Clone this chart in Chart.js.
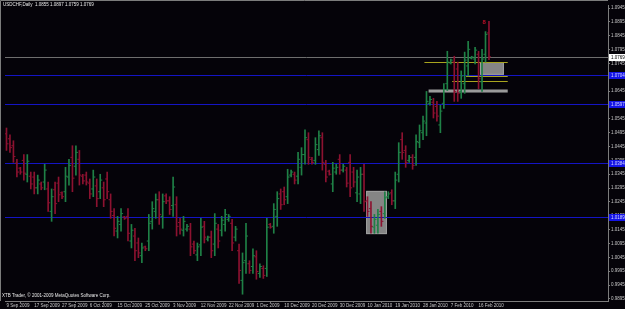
<!DOCTYPE html>
<html><head><meta charset="utf-8">
<script src="https://cdn.jsdelivr.net/npm/chart.js@4.4.1/dist/chart.umd.min.js"></script>
<style>html,body{margin:0;padding:0;background:#050309;overflow:hidden}#wrap{width:625px;height:309px;position:relative}</style>
</head><body><div id="wrap"><canvas id="c"></canvas></div>
<script>
// ---- data ----
const symbolTitle = 'USDCHF,Daily  1.0855 1.0897 1.0759 1.0769';
const copyrightText = 'XTB Trader, \u00A9 2001-2009 MetaQuotes Software Corp.';
const dateLabels = ['9 Sep 2009','17 Sep 2009','27 Sep 2009','6 Oct 2009','15 Oct 2009','25 Oct 2009','3 Nov 2009','12 Nov 2009','22 Nov 2009','1 Dec 2009','10 Dec 2009','20 Dec 2009','30 Dec 2009','10 Jan 2010','19 Jan 2010','28 Jan 2010','7 Feb 2010','16 Feb 2010'];
const dateLabelBars = [0,8,16,24,32,40,48,56,64,72,80,88,96,104,112,120,128,136];
const priceTicks = [1.0945,1.0895,1.0845,1.0795,1.0745,1.0695,1.0645,1.0595,1.0545,1.0495,1.0445,1.0395,1.0345,1.0295,1.0245,1.0195,1.0145,1.0095,1.0045,0.9995,0.9945,0.9895];
const opens = [1.0491,1.0473,1.0448,1.0385,1.0367,1.0395,1.0345,1.0338,1.0335,1.0296,
1.0310,1.0317,1.0292,1.0211,1.0289,1.0313,1.0278,1.0282,1.0335,1.0406,
1.0374,1.0399,1.0338,1.0342,1.0313,1.0292,1.0303,1.0282,1.0296,1.0328,
1.0253,1.0196,1.0140,1.0164,1.0191,1.0193,1.0104,1.0122,1.0097,1.0051,
1.0083,1.0104,1.0175,1.0211,1.0253,1.0193,1.0267,1.0249,1.0232,1.0235,
1.0171,1.0143,1.0147,1.0147,1.0093,1.0054,1.0090,1.0157,1.0111,1.0118,
1.0093,1.0147,1.0143,1.0164,1.0182,1.0168,1.0118,1.0069,0.9962,1.0033,
1.0022,1.0012,1.0047,0.9987,1.0005,1.0005,1.0164,1.0157,1.0193,1.0274,
1.0282,1.0264,1.0342,1.0345,1.0338,1.0370,1.0416,1.0470,1.0399,1.0395,
1.0434,1.0477,1.0381,1.0356,1.0310,1.0353,1.0399,1.0360,1.0360,1.0388,
1.0353,1.0278,1.0274,1.0345,1.0249,1.0221,1.0154,1.0161,1.0211,1.0203,
1.0264,1.0278,1.0249,1.0345,1.0470,1.0431,1.0395,1.0406,1.0406,1.0459,
1.0495,1.0530,1.0601,1.0605,1.0590,1.0523,1.0601,1.0672,1.0747,1.0750,
1.0725,1.0644,1.0672,1.0736,1.0764,1.0761,1.0778,1.0679,1.0778,1.0855];
const highs = [1.0512,1.0487,1.0466,1.0399,1.0370,1.0416,1.0416,1.0353,1.0353,1.0342,
1.0317,1.0381,1.0317,1.0292,1.0317,1.0335,1.0282,1.0370,1.0399,1.0448,
1.0448,1.0431,1.0345,1.0353,1.0328,1.0360,1.0328,1.0345,1.0317,1.0353,
1.0274,1.0221,1.0193,1.0221,1.0193,1.0221,1.0164,1.0150,1.0115,1.0097,
1.0086,1.0200,1.0246,1.0274,1.0282,1.0274,1.0274,1.0264,1.0335,1.0264,
1.0186,1.0193,1.0164,1.0168,1.0104,1.0097,1.0186,1.0175,1.0122,1.0140,
1.0203,1.0164,1.0193,1.0218,1.0200,1.0182,1.0157,1.0093,1.0061,1.0168,
1.0033,1.0076,1.0069,1.0022,1.0015,1.0186,1.0168,1.0239,1.0282,1.0292,
1.0299,1.0363,1.0360,1.0353,1.0424,1.0441,1.0505,1.0495,1.0406,1.0477,
1.0502,1.0495,1.0395,1.0360,1.0388,1.0381,1.0416,1.0381,1.0370,1.0416,
1.0370,1.0360,1.0370,1.0381,1.0264,1.0246,1.0200,1.0218,1.0228,1.0282,
1.0282,1.0289,1.0353,1.0459,1.0495,1.0448,1.0413,1.0416,1.0487,1.0523,
1.0555,1.0644,1.0626,1.0619,1.0608,1.0594,1.0672,1.0789,1.0761,1.0771,
1.0750,1.0718,1.0786,1.0825,1.0771,1.0803,1.0789,1.0796,1.0860,1.0897];
const lows = [1.0431,1.0424,1.0388,1.0335,1.0345,1.0324,1.0317,1.0292,1.0274,1.0274,
1.0289,1.0289,1.0211,1.0175,1.0203,1.0246,1.0257,1.0246,1.0306,1.0282,
1.0342,1.0306,1.0310,1.0306,1.0257,1.0264,1.0228,1.0257,1.0228,1.0257,
1.0186,1.0122,1.0115,1.0140,1.0182,1.0104,1.0079,1.0033,1.0044,1.0026,
1.0069,1.0069,1.0147,1.0186,1.0164,1.0150,1.0239,1.0200,1.0193,1.0122,
1.0129,1.0122,1.0140,1.0051,1.0058,1.0033,1.0051,1.0097,1.0104,1.0044,
1.0051,1.0079,1.0122,1.0140,1.0175,1.0069,1.0104,0.9951,0.9912,0.9987,
0.9987,0.9987,0.9966,0.9973,0.9969,0.9976,1.0150,1.0132,1.0157,1.0218,
1.0235,1.0239,1.0335,1.0310,1.0310,1.0342,1.0381,1.0381,1.0381,1.0381,
1.0413,1.0360,1.0317,1.0342,1.0282,1.0345,1.0345,1.0353,1.0299,1.0264,
1.0299,1.0246,1.0239,1.0211,1.0193,1.0132,1.0132,1.0132,1.0157,1.0186,
1.0257,1.0235,1.0221,1.0317,1.0399,1.0370,1.0388,1.0363,1.0377,1.0441,
1.0470,1.0484,1.0594,1.0548,1.0537,1.0495,1.0583,1.0647,1.0743,1.0608,
1.0608,1.0619,1.0637,1.0700,1.0761,1.0743,1.0654,1.0644,1.0750,1.0759];
const closes = [1.0455,1.0441,1.0409,1.0353,1.0353,1.0349,1.0392,1.0310,1.0296,1.0324,
1.0296,1.0360,1.0242,1.0264,1.0239,1.0271,1.0264,1.0338,1.0377,1.0331,
1.0424,1.0342,1.0321,1.0317,1.0274,1.0335,1.0257,1.0324,1.0253,1.0282,
1.0211,1.0150,1.0175,1.0203,1.0186,1.0132,1.0143,1.0069,1.0061,1.0079,
1.0076,1.0168,1.0221,1.0253,1.0200,1.0246,1.0249,1.0218,1.0299,1.0157,
1.0147,1.0175,1.0157,1.0083,1.0069,1.0083,1.0154,1.0118,1.0118,1.0069,
1.0168,1.0104,1.0179,1.0200,1.0193,1.0097,1.0147,0.9998,1.0026,1.0122,
0.9998,1.0051,0.9994,1.0012,0.9980,1.0154,1.0154,1.0218,1.0257,1.0235,
1.0253,1.0335,1.0353,1.0324,1.0399,1.0416,1.0477,1.0406,1.0388,1.0452,
1.0484,1.0388,1.0335,1.0345,1.0367,1.0370,1.0360,1.0374,1.0313,1.0296,
1.0317,1.0335,1.0345,1.0246,1.0211,1.0157,1.0182,1.0200,1.0175,1.0260,
1.0274,1.0249,1.0324,1.0424,1.0424,1.0388,1.0406,1.0377,1.0463,1.0502,
1.0537,1.0608,1.0615,1.0566,1.0555,1.0573,1.0651,1.0750,1.0757,1.0644,
1.0637,1.0700,1.0757,1.0796,1.0768,1.0793,1.0690,1.0761,1.0850,1.0769];
const levelPrices = [1.0704,1.0597,1.0384,1.0189];
const levelTexts = ['1.0704','1.0597','1.0384','1.0189'];
const bidPrice = 1.0769;
// [fromBar, toBar, price]
const yellowLines = [[120.4,144.4,1.0749],[132.4,144.4,1.0700],[128.4,144.4,1.0683]];
// [fromBar, toBar, topPrice, bottomPrice]
const grayBoxes = [[103.6,109.6,1.0285,1.0129],[136.4,143.3,1.0750,1.0704],[121.6,144.4,1.0651,1.0640]];
const markerBar = 137.6, markerPrice = 1.0892;

// ---- styles ----
const BG = '#050309', UP = '#1f8046', DOWN = '#8c1230', AXIS = '#7c7c7c', TXT = '#c8c8c8';
const FONT = '"Liberation Sans", Arial, sans-serif';

const idx = opens.map((_, i) => i);
const colors = idx.map(i => closes[i] >= opens[i] ? UP : DOWN);

function noPad(s) { s.paddingTop = 0; s.paddingBottom = 0; s.paddingLeft = 0; s.paddingRight = 0; }

const drawPlugin = {
  id: 'mt4',
  beforeDraw(chart) {
    const c = chart.ctx;
    c.save(); c.fillStyle = BG; c.fillRect(0, 0, chart.width, chart.height); c.restore();
  },
  beforeDatasetsDraw(chart) {
    const c = chart.ctx, a = chart.chartArea, x = chart.scales.x, y = chart.scales.y;
    c.save();
    c.beginPath(); c.rect(a.left, a.top, a.right - a.left, a.bottom - a.top); c.clip();
    grayBoxes.forEach((b, k) => {
      const x1 = x.getPixelForValue(b[0]), x2 = x.getPixelForValue(b[1]);
      const y1 = y.getPixelForValue(b[2]), y2 = y.getPixelForValue(b[3]);
      c.fillStyle = k === 2 ? '#9a9a9a' : '#858585';
      c.fillRect(x1, y1, x2 - x1, y2 - y1);
      if (k !== 2) { c.strokeStyle = '#a0a0a0'; c.lineWidth = 1; c.strokeRect(x1 + 0.5, y1 + 0.5, x2 - x1 - 1, y2 - y1 - 1); }
    });
    c.lineWidth = 1;
    levelPrices.forEach(p => {
      const py = Math.round(y.getPixelForValue(p)) + 0.5;
      c.strokeStyle = '#1414c4'; c.beginPath(); c.moveTo(a.left, py); c.lineTo(a.right, py); c.stroke();
    });
    const by = Math.round(y.getPixelForValue(bidPrice)) + 0.5;
    c.strokeStyle = '#6e6e6e'; c.beginPath(); c.moveTo(a.left, by); c.lineTo(a.right, by); c.stroke();
    yellowLines.forEach(l => {
      const py = Math.round(y.getPixelForValue(l[2])) + 0.5;
      c.strokeStyle = '#a8a41e'; c.beginPath();
      c.moveTo(x.getPixelForValue(l[0]), py); c.lineTo(x.getPixelForValue(l[1]), py); c.stroke();
    });
    c.restore();
  },
  afterDraw(chart) {
    const c = chart.ctx, a = chart.chartArea, x = chart.scales.x, y = chart.scales.y;
    c.save();
    c.strokeStyle = AXIS; c.lineWidth = 1;
    c.beginPath(); c.moveTo(0.5, a.bottom); c.lineTo(0.5, 0.5); c.lineTo(a.right, 0.5); c.stroke();
    c.font = '4.5px ' + FONT; c.textBaseline = 'middle'; c.textAlign = 'left';
    levelPrices.forEach((p, k) => {
      const py = Math.round(y.getPixelForValue(p));
      c.fillStyle = '#1414e6'; c.fillRect(a.right + 1, py - 3, 16, 7);
      c.fillStyle = '#d8d8ff'; c.fillText(levelTexts[k], a.right + 3, py + 0.5);
    });
    const by = Math.round(y.getPixelForValue(bidPrice));
    c.fillStyle = '#ffffff'; c.fillRect(a.right + 1, by - 3, 16, 7);
    c.fillStyle = '#000000'; c.fillText(bidPrice.toFixed(4), a.right + 3, by + 0.5);
    c.fillStyle = '#e8e8e8'; c.textBaseline = 'top';
    c.fillText(symbolTitle, 3, 3);
    c.fillText(copyrightText, 2, a.bottom - 7);
    c.fillStyle = '#c01028'; c.font = 'bold 6px ' + FONT; c.textAlign = 'center'; c.textBaseline = 'middle';
    c.fillText('8', x.getPixelForValue(markerBar), y.getPixelForValue(markerPrice));
    c.restore();
  }
};

new Chart(document.getElementById('c'), {
  type: 'bar',
  data: {
    datasets: [
      { type: 'bar', data: idx.map(i => ({ x: i, y: [lows[i], highs[i]] })), backgroundColor: colors, barThickness: 1, borderWidth: 0, order: 2 },
      { type: 'scatter', data: idx.map(i => ({ x: i - 0.3, y: opens[i] })), pointStyle: 'line', pointRadius: 1, borderWidth: 1, pointBorderColor: colors, order: 1 },
      { type: 'scatter', data: idx.map(i => ({ x: i + 0.3, y: closes[i] })), pointStyle: 'line', pointRadius: 1, borderWidth: 1, pointBorderColor: colors, order: 1 }
    ]
  },
  options: {
    responsive: true, maintainAspectRatio: false, animation: false, events: [],
    layout: { padding: 0 },
    plugins: { legend: { display: false }, tooltip: { enabled: false } },
    scales: {
      x: {
        type: 'linear', min: -0.4286, max: 173.29, offset: false,
        afterFit(s) { s.height = 8; noPad(s); },
        afterBuildTicks(s) { s.ticks = dateLabelBars.map(v => ({ value: v })); },
        grid: { display: true, drawOnChartArea: false, drawTicks: true, tickLength: 2, color: AXIS },
        border: { display: true, color: AXIS },
        ticks: { autoSkip: false, maxRotation: 0, minRotation: 0, align: 'start', padding: 0, color: TXT,
          font: { family: FONT, size: 4.5 }, callback: (v, i) => dateLabels[i] }
      },
      y: {
        type: 'linear', position: 'right', min: 0.98875, max: 1.0956,
        afterFit(s) { s.width = 17; noPad(s); },
        afterBuildTicks(s) { s.ticks = priceTicks.map(v => ({ value: v })); },
        grid: { display: true, drawOnChartArea: false, drawTicks: true, tickLength: 2, color: AXIS },
        border: { display: true, color: AXIS },
        ticks: { padding: 1, color: TXT, font: { family: FONT, size: 4.5 }, callback: v => Number(v).toFixed(4) }
      }
    }
  },
  plugins: [drawPlugin]
});
</script>
</body></html>
